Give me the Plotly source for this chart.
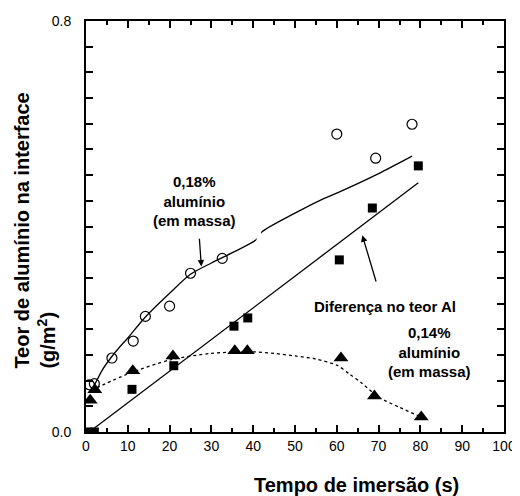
import plotly.graph_objects as go

# ---- data ----
circ_x = [0.8, 2.0, 6.2, 11.3, 14.2, 20.0, 25.0, 32.6, 60.0, 69.3, 78.0]
circ_y = [0.092, 0.094, 0.144, 0.177, 0.225, 0.245, 0.309, 0.338, 0.580, 0.533, 0.599]

sq_x = [0.5, 2.0, 11.0, 21.0, 35.4, 38.7, 60.6, 68.5, 79.5]
sq_y = [0.0, 0.0, 0.083, 0.129, 0.206, 0.222, 0.335, 0.436, 0.518]

tri_x = [1.0, 2.1, 11.2, 20.8, 35.6, 38.6, 61.0, 69.0, 80.2]
tri_y = [0.062, 0.082, 0.119, 0.148, 0.158, 0.158, 0.144, 0.070, 0.029]

fit18_x = [2, 4, 6, 8, 10, 14, 20, 25, 30, 35, 40.7, 42, 50, 56, 60, 70, 78]
fit18_y = [0.091, 0.122, 0.145, 0.165, 0.183, 0.222, 0.270, 0.307, 0.329, 0.349, 0.374,
           0.389, 0.426, 0.451, 0.465, 0.503, 0.537]

diff_x = [1.4, 79.5]
diff_y = [0.004, 0.485]

fit14_x = [2.6, 10, 20, 30, 40, 45, 50, 55, 60, 63, 66, 70, 75, 80]
fit14_y = [0.086, 0.113, 0.140, 0.153, 0.156, 0.153, 0.148, 0.142, 0.130, 0.113, 0.095, 0.068, 0.048, 0.030]

x_ticks = [0, 10, 20, 30, 40, 50, 60, 70, 80, 90, 100]
y_ticks = [round(i * 0.05, 2) for i in range(17)]
y_labels = ["0.0" if v == 0 else ("0.8" if v == 0.8 else "") for v in y_ticks]

fig = go.Figure()
line_style = dict(color="black", width=1.3)
fig.add_trace(go.Scatter(x=fit18_x, y=fit18_y, mode="lines", line=dict(shape="spline", smoothing=0.8, **line_style),
                         hoverinfo="skip"))
fig.add_trace(go.Scatter(x=diff_x, y=diff_y, mode="lines", line=line_style, hoverinfo="skip"))
fig.add_trace(go.Scatter(x=fit14_x, y=fit14_y, mode="lines",
                         line=dict(color="black", width=1.3, dash="3px,3px", shape="spline", smoothing=0.8),
                         hoverinfo="skip"))
fig.add_trace(go.Scatter(x=circ_x, y=circ_y, mode="markers",
                         marker=dict(symbol="circle-open", size=10, color="black", line=dict(width=1.2))))
fig.add_trace(go.Scatter(x=sq_x, y=sq_y, mode="markers",
                         marker=dict(symbol="square", size=9, color="black")))
fig.add_trace(go.Scatter(x=tri_x, y=tri_y, mode="markers",
                         marker=dict(symbol="triangle-up", size=13, color="black")))

bold = dict(family="Liberation Sans, Arial, sans-serif", size=15, color="black")
fig.add_annotation(x=26, y=0.449, text="<b>0,18%<br>alumínio<br>(em massa)</b>", showarrow=False,
                   font=bold, align="center")
fig.add_annotation(x=27.6, y=0.322, ax=27.1, ay=0.379, xref="x", yref="y", axref="x", ayref="y",
                   text="", showarrow=True, arrowhead=2, arrowsize=1, arrowwidth=1.3, arrowcolor="black")
fig.add_annotation(x=71.6, y=0.245, text="<b>Diferença no teor Al</b>", showarrow=False, font=bold)
fig.add_annotation(x=66.1, y=0.383, ax=69.5, ay=0.29, xref="x", yref="y", axref="x", ayref="y",
                   text="", showarrow=True, arrowhead=2, arrowsize=1, arrowwidth=1.3, arrowcolor="black")
fig.add_annotation(x=82.1, y=0.156, text="<b>0,14%<br>alumínio<br>(em massa)</b>", showarrow=False,
                   font=bold, align="center")

title_font = dict(family="Liberation Sans, Arial, sans-serif", size=20, color="black")
fig.add_annotation(x=0.646, y=-0.129, xref="paper", yref="paper", text="<b>Tempo de imersão (s)</b>",
                   showarrow=False, font=title_font, xanchor="center", yanchor="middle")
fig.add_annotation(x=-0.122, y=0.49, xref="paper", yref="paper",
                   text="<b>Teor de alumínio na interface<br>(g/m<sup>2</sup>)</b>",
                   showarrow=False, font=title_font, textangle=-90, align="left",
                   xanchor="center", yanchor="middle")

# small gap in the 0.18% curve (covered by the label box in the original)
fig.add_shape(type="rect", x0=40.8, x1=41.9, y0=0.36, y1=0.41, fillcolor="white",
              line=dict(width=0), layer="above")

axis_common = dict(showline=True, linecolor="black", linewidth=2, mirror="ticks", automargin=False,
                   ticks="inside", tickcolor="black", tickwidth=1.6, showgrid=False, zeroline=False,
                   tickfont=dict(family="Liberation Sans, Arial, sans-serif", size=14, color="black"))
fig.update_xaxes(range=[0, 100], tickvals=x_ticks, ticklen=7,
                 minor=dict(dtick=5, tick0=0, ticks="inside", ticklen=4, tickcolor="black", tickwidth=1.6),
                 **axis_common)
fig.update_yaxes(range=[0, 0.8], tickvals=y_ticks, ticktext=y_labels, ticklen=7,
                 ticklabelstandoff=10, **axis_common)

# page body has an 8px margin: figure is 512x488 so it fills the 520x496 window
fig.update_layout(width=512, height=488, margin=dict(l=78, r=16, t=13, b=64),
                  plot_bgcolor="white", paper_bgcolor="white", showlegend=False)
fig.write_html("out.html")
